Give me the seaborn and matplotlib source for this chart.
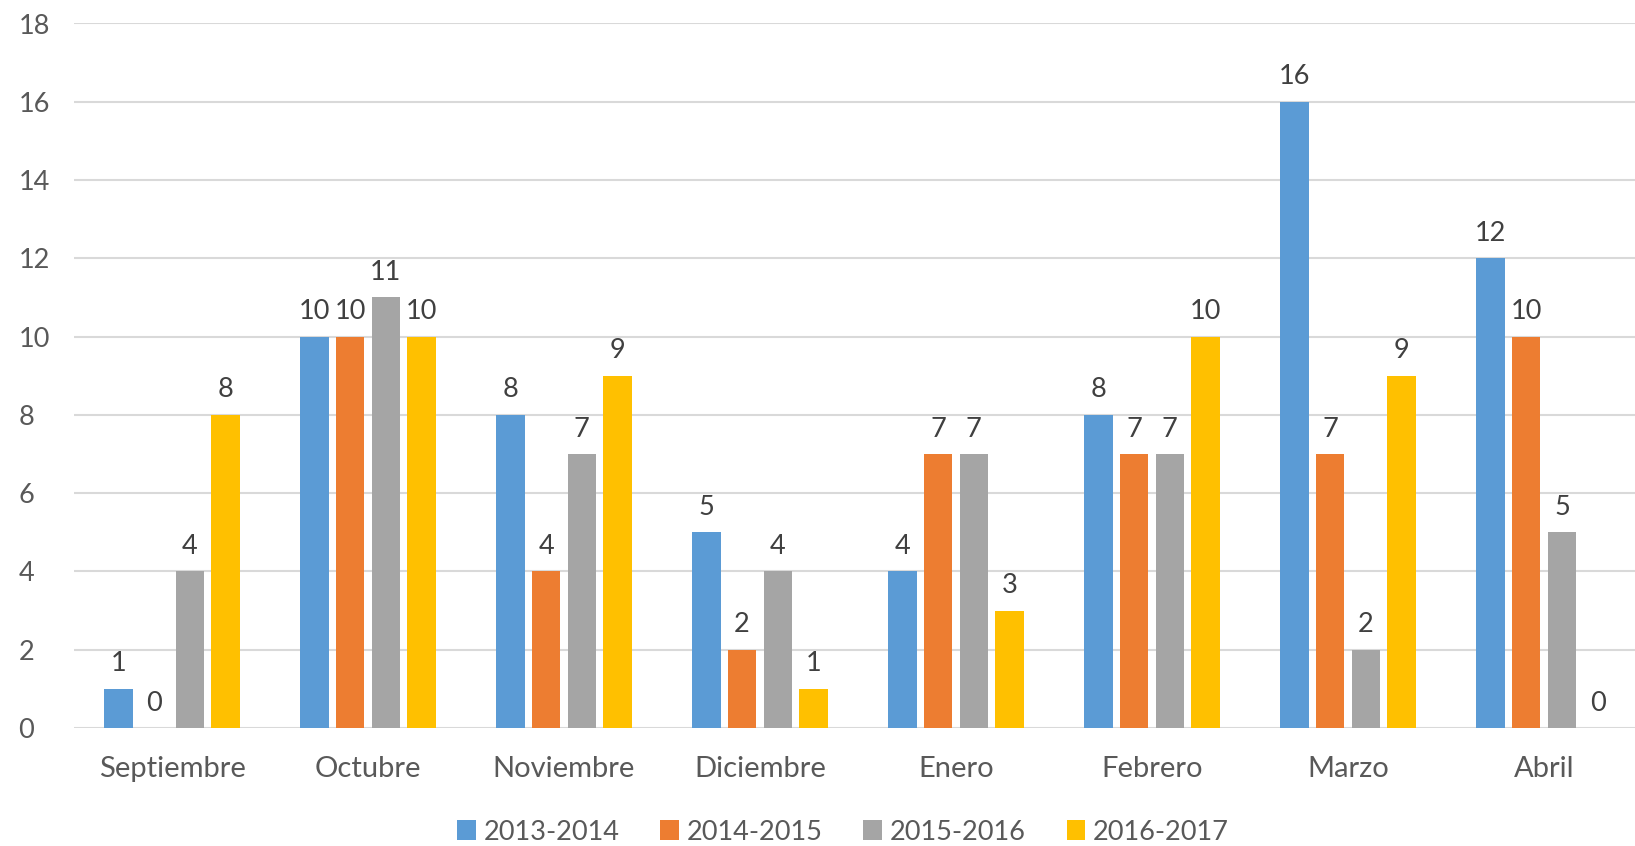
import pandas as pd
import matplotlib.pyplot as plt
import seaborn as sns

# Datos por mes y curso
meses = ['Septiembre', 'Octubre', 'Noviembre', 'Diciembre', 'Enero', 'Febrero', 'Marzo', 'Abril']
cursos = ['2013-2014', '2014-2015', '2015-2016', '2016-2017']
v_2013 = [1, 10, 8, 5, 4, 8, 16, 12]
v_2014 = [0, 10, 4, 2, 7, 7, 7, 10]
v_2015 = [4, 11, 7, 4, 7, 7, 2, 5]
v_2016 = [8, 10, 9, 1, 3, 10, 9, 0]
colores = ['#5B9BD5', '#ED7D31', '#A5A5A5', '#FFC000']

series = [v_2013, v_2014, v_2015, v_2016]
df = pd.DataFrame({
    'Mes': meses * len(cursos),
    'Curso': [c for c in cursos for _ in meses],
    'Valor': [v for s in series for v in s],
})

sns.set_style('white')
plt.rcParams['font.family'] = ['Lato', 'DejaVu Sans']

fig = plt.figure(figsize=(16.35, 8.46), dpi=100)
ax = fig.add_axes([74 / 1635, 1 - 728 / 846, 1568 / 1635, 704.5 / 846])

sns.barplot(data=df, x='Mes', y='Valor', hue='Curso', palette=colores,
            width=0.73, gap=0.2, ax=ax, legend=True, saturation=1,
            linewidth=0, edgecolor='none')

for cont in ax.containers:
    ax.bar_label(cont, fmt='%d', padding=9, fontsize=19.5, color='#404040')

ax.set_ylim(0, 18)
ax.set_xlim(-0.5, 7.5)
ax.set_yticks(range(0, 19, 2))
ax.yaxis.grid(True, color='#D9D9D9', linewidth=1.5)
ax.set_axisbelow(True)
for s in ax.spines.values():
    s.set_visible(False)
ax.set_xlabel('')
ax.set_ylabel('')
ax.tick_params(axis='y', length=0, labelsize=19.5, colors='#595959', pad=40)
ax.tick_params(axis='x', length=0, labelsize=21, colors='#595959', pad=20)
for lbl in ax.get_yticklabels():
    lbl.set_horizontalalignment('left')

handles, labels = ax.get_legend_handles_labels()
ax.get_legend().remove()
fig.legend(handles, labels, loc='center', bbox_to_anchor=(0.5157, 0.0165), ncol=4,
           frameon=False, handlelength=0.68, handleheight=0.76, handletextpad=0.3,
           columnspacing=1.5, prop={'size': 19.5}, labelcolor='#595959')

fig.savefig('out.png', dpi=100)
